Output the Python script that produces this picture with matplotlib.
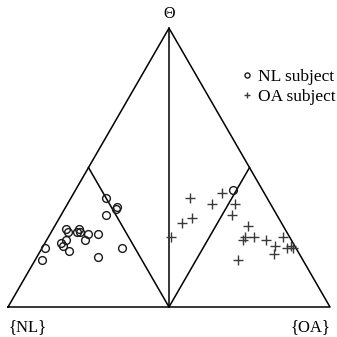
import numpy as np
import matplotlib

matplotlib.use("Agg")
import matplotlib.pyplot as plt

plt.rcParams["font.family"] = ["Liberation Serif", "DejaVu Serif"]

# Belief masses per subject: m(Theta) and m({OA}); m({NL}) = 1 - the rest
nl_theta = [0.39, 0.36, 0.35, 0.33, 0.28, 0.28, 0.27, 0.27, 0.27, 0.26, 0.26,
            0.24, 0.24, 0.23, 0.22, 0.21, 0.21, 0.20, 0.18, 0.17, 0.42]
nl_oa = [0.11, 0.16, 0.16, 0.14, 0.04, 0.08, 0.08, 0.09, 0.05, 0.12, 0.15,
         0.12, 0.06, 0.05, 0.06, 0.01, 0.25, 0.09, 0.19, 0.02, 0.49]

oa_theta = [0.39, 0.41, 0.37, 0.37, 0.32, 0.30, 0.33, 0.25, 0.29, 0.25,
            0.24, 0.25, 0.24, 0.22, 0.25, 0.19, 0.21, 0.22, 0.21, 0.17]
oa_oa = [0.37, 0.46, 0.45, 0.52, 0.41, 0.39, 0.53, 0.38, 0.60, 0.61,
         0.61, 0.64, 0.68, 0.72, 0.73, 0.73, 0.76, 0.77, 0.78, 0.63]

H = np.sqrt(3) / 2


def to_xy(theta, oa):
    theta = np.asarray(theta)
    oa = np.asarray(oa)
    return oa + 0.5 * theta, theta * H


fig = plt.figure(figsize=(3.37, 3.37), dpi=100)
ax = fig.add_axes([0, 0, 1, 1])
ax.set_xlim(-8 / 322, 329 / 322)
ax.set_ylim(-30 / 322, 307 / 322)
ax.axis("off")

lw = 1.1
# outer triangle
ax.plot([0, 1, 0.5, 0], [0, 0, H, 0], color="black", lw=lw)
# vertical from Theta to base midpoint
ax.plot([0.5, 0.5], [H, 0], color="black", lw=lw)
# inner lines from base midpoint to edge midpoints
ax.plot([0.25, 0.5, 0.75], [H / 2, 0, H / 2], color="black", lw=lw)

x, y = to_xy(nl_theta, nl_oa)
ax.plot(x, y, linestyle="none", marker="o", markersize=5.6, mfc="none",
        mec="#1a1a1a", mew=1.0, label="NL subject")
x, y = to_xy(oa_theta, oa_oa)
ax.plot(x, y, linestyle="none", marker="+", markersize=7, color="#3a3a3a",
        mew=1.0, label="OA subject")

ax.text(0.5, H + 0.043, "\u0398", ha="center", va="center", fontsize=11.5)
ax.text(0.0, -0.062, "{NL}", ha="left", va="center", fontsize=12)
ax.text(1.0, -0.062, "{OA}", ha="right", va="center", fontsize=12)

ax.legend(loc="upper right", bbox_to_anchor=(0.997, 0.795),
          bbox_transform=fig.transFigure, frameon=False, fontsize=12.5,
          handlelength=0.6, handletextpad=0.35, borderpad=0, borderaxespad=0,
          labelspacing=0.2, markerscale=0.65)

plt.savefig("out.png", dpi=100)
